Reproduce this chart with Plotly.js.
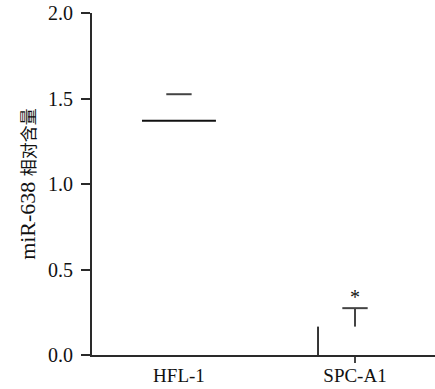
<!DOCTYPE html>
<html><head><meta charset="utf-8">
<script src="https://cdn.plot.ly/plotly-3.0.1.min.js"></script>
<style>body{margin:0;background:#fff}#c{width:435px;height:389px}</style>
</head><body><div id="c"></div>
<script>
const categories = ['HFL-1', 'SPC-A1'];
const means = [1.37, 0.166];
const errors = [0.155, 0.108];
const significance = ['', '*'];
const yTickVals = [0, 0.5, 1.0, 1.5, 2.0];
const yTickText = ['0.0', '0.5', '1.0', '1.5', '2.0'];

const HW = 0.21;   // half bar width (axis units)
const CAP = 0.072; // half cap width (axis units)
const SERIF = '"Liberation Serif", "Times New Roman", "Noto Sans CJK SC", serif';
const LC = '#2a2a2a';
const seg = (x, y, color) => ({x, y, mode: 'lines', line: {color, width: 2},
  hoverinfo: 'skip', showlegend: false});

const traces = [
  // HFL-1 bar top edge
  seg([0 - HW, 0 + HW], [means[0], means[0]], '#111'),
  // HFL-1 error cap
  seg([0 - CAP, 0 + CAP], [means[0] + errors[0], means[0] + errors[0]], '#444'),
  // SPC-A1 bar left edge
  seg([1 - HW, 1 - HW], [0, means[1]], '#333'),
  // SPC-A1 error stem
  seg([1, 1], [means[1], means[1] + errors[1]], '#444'),
  // SPC-A1 error cap
  seg([1 - CAP, 1 + CAP], [means[1] + errors[1], means[1] + errors[1]], '#444')
];

const xr = [-0.494, 1.4545];
const layout = {
  width: 435, height: 389,
  margin: {l: 92, r: 0, t: 13, b: 34},
  paper_bgcolor: '#fff', plot_bgcolor: '#fff',
  showlegend: false,
  xaxis: {
    range: xr, tickmode: 'array', tickvals: [0, 1], ticktext: categories, ticks: '',
    minor: {tickmode: 'array', tickvals: [1], ticks: 'outside', ticklen: 6, tickwidth: 2, tickcolor: '#444', showgrid: false},
    showline: true, linewidth: 2, linecolor: LC, zeroline: false, showgrid: false,
    tickfont: {family: SERIF, size: 19, color: '#111'}, ticklabelstandoff: 2
  },
  yaxis: {
    range: [0, 2], tickvals: yTickVals, ticktext: yTickText,
    ticks: 'outside', ticklen: 9, tickwidth: 2, tickcolor: LC,
    showline: true, linewidth: 2, linecolor: LC, zeroline: false, showgrid: false,
    tickfont: {family: SERIF, size: 20, color: '#111'}, ticklabelstandoff: 4,
    title: {text: 'miR-638 <span style="font-size:17px">相对含量</span>',
            font: {family: SERIF, size: 22, color: '#111'}, standoff: 6}
  },
  annotations: categories.map((c, i) => ({
    x: i, y: means[i] + errors[i], text: significance[i], showarrow: false,
    yshift: 11, font: {family: SERIF, size: 20, color: '#111'}
  })).filter(a => a.text)
};

Plotly.newPlot('c', traces, layout, {displayModeBar: false, staticPlot: true});
</script>
</body></html>
